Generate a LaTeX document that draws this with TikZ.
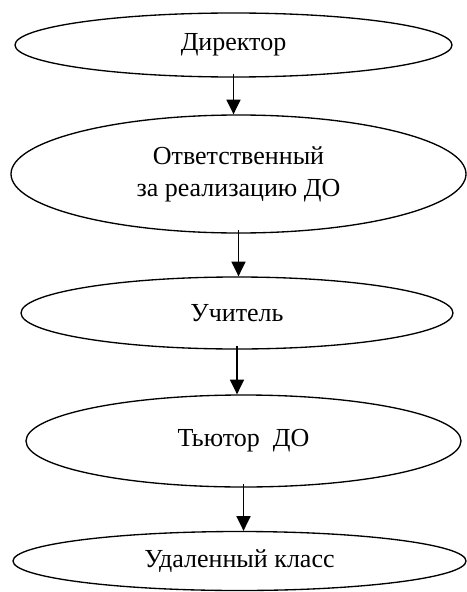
\documentclass[tikz,border=0pt]{standalone}
\usepackage{fontspec}
\setmainfont{Liberation Serif}
\usetikzlibrary{shapes.geometric,arrows.meta}

\begin{document}
\begin{tikzpicture}[x=0.75pt,y=-0.75pt,>={Triangle[length=11pt,width=10.5pt]},
  unit/.style={draw,ellipse,line width=1pt,inner sep=0pt,align=center,
    font=\fontsize{19.5}{24}\selectfont}]
  \useasboundingbox (0,0) rectangle (467,592);
  \node[unit,minimum width=327.75pt,minimum height=48pt] (dir) at (233.5,45) {Директор};
  \node[unit,minimum width=341.25pt,minimum height=88.5pt] (resp) at (238.5,174) {Ответственный\\за реализацию ДО};
  \node[unit,minimum width=324pt,minimum height=54pt] (teach) at (237,313) {Учитель};
  \node[unit,minimum width=326.25pt,minimum height=69pt] (tutor) at (243.5,441) {Тьютор~~ДО};
  \node[unit,minimum width=339.75pt,minimum height=44.25pt] (cls) at (239.5,561) {Удаленный класс};
  \foreach \a/\b in {dir/resp, resp/teach, teach/tutor, tutor/cls}
    \draw[->,line width=1.3pt] ([yshift=3pt]\a.south) -- (\a.south |- \b.north);
\end{tikzpicture}
\end{document}
